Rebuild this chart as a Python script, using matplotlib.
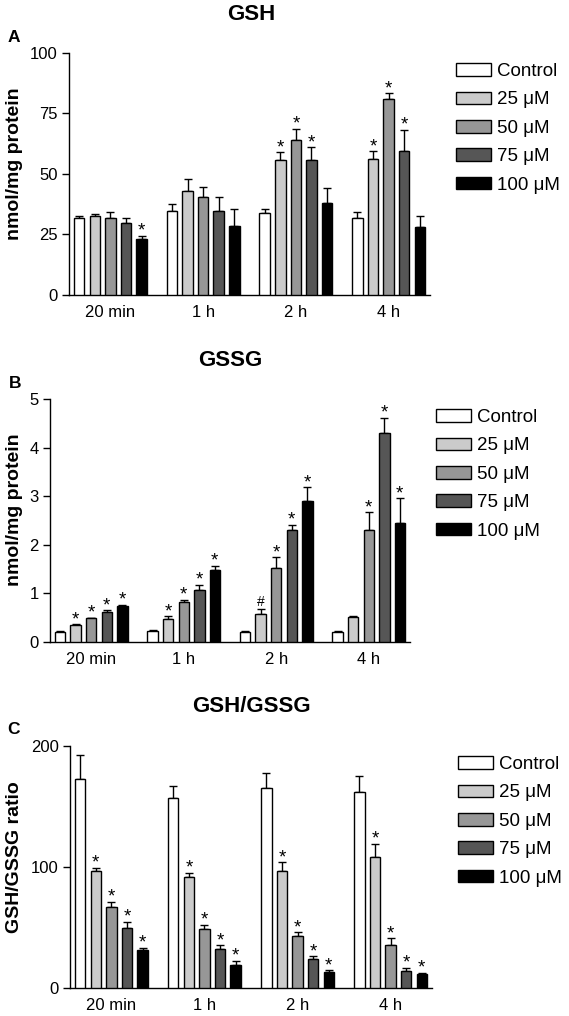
import numpy as np
import matplotlib
matplotlib.use("Agg")
import matplotlib.pyplot as plt

plt.rcParams['font.family'] = ['Liberation Sans', 'DejaVu Sans']

groups = ["20 min", "1 h", "2 h", "4 h"]
series = ["Control", "25 \u03bcM", "50 \u03bcM", "75 \u03bcM", "100 \u03bcM"]
colors = ["#ffffff", "#cbcbcb", "#979797", "#565656", "#000000"]

# GSH (nmol/mg protein): rows = series, cols = groups
gsh = [[31.7, 34.9, 33.8, 32.0],
       [32.7, 43.0, 55.7, 56.4],
       [31.9, 40.4, 63.9, 81.0],
       [29.9, 34.6, 55.6, 59.6],
       [23.0, 28.7, 38.1, 28.0]]
gsh_err = [[1.0, 2.6, 1.6, 2.2],
           [0.7, 4.9, 3.3, 3.0],
           [2.3, 4.3, 4.8, 2.4],
           [1.8, 5.8, 5.4, 8.7],
           [1.4, 7.0, 6.3, 4.5]]
gsh_sig = [["", "", "", ""],
           ["", "", "*", "*"],
           ["", "", "*", "*"],
           ["", "", "*", "*"],
           ["*", "", "", ""]]

gssg = [[0.20, 0.23, 0.21, 0.21],
        [0.35, 0.47, 0.58, 0.51],
        [0.49, 0.83, 1.52, 2.30],
        [0.61, 1.08, 2.30, 4.31],
        [0.74, 1.49, 2.90, 2.44]]
gssg_err = [[0.02, 0.01, 0.02, 0.02],
            [0.02, 0.06, 0.09, 0.03],
            [0.01, 0.04, 0.22, 0.37],
            [0.04, 0.10, 0.11, 0.30],
            [0.03, 0.08, 0.28, 0.52]]
gssg_sig = [["", "", "", ""],
            ["*", "*", "#", ""],
            ["*", "*", "*", "*"],
            ["*", "*", "*", "*"],
            ["*", "*", "*", "*"]]

ratio = [[172.4, 157.0, 165.5, 161.7],
         [96.3, 91.6, 97.1, 108.1],
         [66.8, 49.1, 42.8, 35.9],
         [49.7, 32.3, 24.3, 13.8],
         [31.4, 19.0, 13.0, 11.2]]
ratio_err = [[20.2, 10.2, 12.2, 13.7],
             [3.0, 3.8, 6.9, 11.1],
             [4.6, 3.3, 3.3, 5.2],
             [4.9, 3.0, 1.9, 2.8],
             [2.0, 3.6, 1.6, 1.3]]
ratio_sig = [["", "", "", ""],
             ["*", "*", "*", "*"],
             ["*", "*", "*", "*"],
             ["*", "*", "*", "*"],
             ["*", "*", "*", "*"]]

W, H = 569, 1016
fig = plt.figure(figsize=(W / 100, H / 100), dpi=100)

pitch = 0.168
bw = 0.113


def panel(rect, vals, errs, sigs, ymax, yticks, ylabel, title, title_xy,
          letter, letter_xy, ylab_xy, leg_xy):
    ax = fig.add_axes(rect)
    x = np.arange(len(groups))
    handles = []
    for j, (name, col) in enumerate(zip(series, colors)):
        xs = x + (j - 2) * pitch
        b = ax.bar(xs, vals[j], width=bw, color=col, edgecolor="black",
                   linewidth=1.0, zorder=3, label=name)
        ax.errorbar(xs, vals[j], yerr=[np.zeros(len(groups)), errs[j]],
                    fmt="none", ecolor="black", elinewidth=1.0, capsize=2.6,
                    capthick=1.0, zorder=2)
        handles.append(b)
        for k in range(len(groups)):
            s = sigs[j][k]
            if s:
                ax.annotate(s, (xs[k], vals[j][k] + errs[j][k]),
                            xytext=(0, 0),
                            textcoords="offset points", ha="center",
                            va="bottom" if s == "#" else "baseline",
                            fontsize=13.5 if s == "*" else 10)
    ax.set_xlim(-0.446, 3.446)
    ax.set_ylim(0, ymax)
    ax.set_yticks(yticks)
    ax.set_xticks(x)
    ax.set_xticklabels(groups, fontsize=12)
    ax.tick_params(axis="x", length=0, pad=7)
    ax.tick_params(axis="y", length=5, width=1.0, labelsize=12, pad=3)
    for s in ["top", "right"]:
        ax.spines[s].set_visible(False)
    for s in ["left", "bottom"]:
        ax.spines[s].set_linewidth(1.0)
    fig.text(ylab_xy[0] / W, 1 - ylab_xy[1] / H, ylabel, rotation=90,
             ha="center", va="center", fontsize=14, fontweight="bold")
    fig.text(title_xy[0] / W, 1 - title_xy[1] / H, title, ha="center",
             va="center", fontsize=16, fontweight="bold")
    fig.text(letter_xy[0] / W, 1 - letter_xy[1] / H, letter, ha="center",
             va="center", fontsize=12.5, fontweight="bold")
    fig.legend(handles=handles, labels=series, loc="upper left",
               bbox_to_anchor=(leg_xy[0] / W, 1 - leg_xy[1] / H),
               frameon=False, fontsize=13.5, handlelength=1.85,
               handleheight=0.65, labelspacing=0.61, handletextpad=0.35,
               borderpad=0, borderaxespad=0)
    return ax


panel([69 / W, 1 - 295 / H, (430 - 69) / W, (295 - 53) / H],
      gsh, gsh_err, gsh_sig, 100, [0, 25, 50, 75, 100],
      "nmol/mg protein", "GSH", (251, 15), "A", (14, 38), (15, 164),
      (456, 63))
panel([50 / W, 1 - 642 / H, (410 - 50) / W, (642 - 399) / H],
      gssg, gssg_err, gssg_sig, 5, [0, 1, 2, 3, 4, 5],
      "nmol/mg protein", "GSSG", (230, 360), "B", (15, 383), (15, 510),
      (436, 409))
panel([70 / W, 1 - 988 / H, (432 - 70) / W, (988 - 746) / H],
      ratio, ratio_err, ratio_sig, 200, [0, 100, 200],
      "GSH/GSSG ratio", "GSH/GSSG", (251, 707), "C", (13, 730), (15, 857),
      (458, 756))

fig.savefig("out.png", dpi=100)
